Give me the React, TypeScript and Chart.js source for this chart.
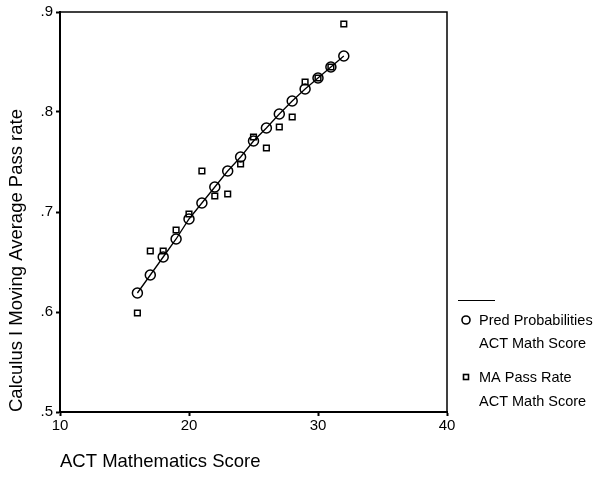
import React, { useEffect, useRef } from "react";
import { Chart, registerables } from "chart.js";

Chart.register(...registerables);

const actScores = [16, 17, 18, 19, 20, 21, 22, 23, 24, 25, 26, 27, 28, 29, 30, 31, 32];
const predProbabilities = [0.619, 0.637, 0.655, 0.673, 0.693, 0.709, 0.725, 0.741, 0.755, 0.771, 0.784, 0.798, 0.811, 0.823, 0.834, 0.845, 0.856];
const maPassRate = [0.599, 0.661, 0.661, 0.682, 0.698, 0.741, 0.716, 0.718, 0.748, 0.775, 0.764, 0.785, 0.795, 0.830, 0.834, 0.845, 0.888];
const legendLabels = [["Pred Probabilities", "ACT Math Score"], ["MA Pass Rate", "ACT Math Score"]];
const xTitle = "ACT Mathematics Score";
const yTitle = "Calculus I Moving Average Pass rate";

const FONT = "'Liberation Sans', Arial, sans-serif";

const framePlugin = {
  id: "frame",
  beforeDatasetsDraw(chart: any) {
    const { ctx, chartArea: a } = chart;
    ctx.save();
    ctx.strokeStyle = "#000";
    ctx.lineWidth = 1.5;
    ctx.strokeRect(a.left, a.top, a.right - a.left, a.bottom - a.top);
    ctx.restore();
  },
};

const legendPlugin = {
  id: "customLegend",
  afterDraw(chart: any) {
    const { ctx, chartArea: a } = chart;
    const x0 = a.right + 11;
    ctx.save();
    ctx.strokeStyle = "#000";
    ctx.fillStyle = "#000";
    ctx.lineWidth = 1.2;
    ctx.beginPath();
    ctx.moveTo(x0, 300.5);
    ctx.lineTo(x0 + 37, 300.5);
    ctx.stroke();
    ctx.lineWidth = 1.6;
    ctx.beginPath();
    ctx.arc(x0 + 8, 320, 4, 0, Math.PI * 2);
    ctx.stroke();
    ctx.strokeRect(x0 + 5.5, 374.5, 5, 5);
    ctx.font = `14.5px ${FONT}`;
    ctx.textBaseline = "middle";
    ctx.textAlign = "left";
    const tx = x0 + 21;
    ctx.fillText(legendLabels[0][0], tx, 321);
    ctx.fillText(legendLabels[0][1], tx, 344);
    ctx.fillText(legendLabels[1][0], tx, 378);
    ctx.fillText(legendLabels[1][1], tx, 402);
    ctx.restore();
  },
};

export default function App() {
  const ref = useRef<HTMLCanvasElement>(null);
  useEffect(() => {
    if (!ref.current) return;
    const chart = new Chart(ref.current, {
      type: "scatter",
      data: {
        datasets: [
          {
            label: "Pred Probabilities",
            data: actScores.map((x, i) => ({ x, y: predProbabilities[i] })),
            showLine: true,
            borderColor: "#000",
            borderWidth: 1.3,
            pointStyle: "circle",
            pointRadius: 5,
            pointBorderWidth: 1.5,
            pointBorderColor: "#000",
            pointBackgroundColor: "rgba(0,0,0,0)",
          },
          {
            label: "MA Pass Rate",
            data: actScores.map((x, i) => ({ x, y: maPassRate[i] })),
            showLine: false,
            pointStyle: "rect",
            pointRadius: 4,
            pointBorderWidth: 1.5,
            pointBorderColor: "#000",
            pointBackgroundColor: "rgba(0,0,0,0)",
          },
        ],
      },
      options: {
        responsive: false,
        animation: false,
        layout: { padding: { left: 0, top: 10, right: 147, bottom: 0 } },
        plugins: { legend: { display: false }, tooltip: { enabled: false } },
        scales: {
          x: {
            type: "linear",
            min: 10,
            max: 40,
            afterFit: (s: any) => { s.height = 72; },
            ticks: { stepSize: 10, color: "#000", font: { family: FONT, size: 15 }, padding: 1 },
            grid: { drawOnChartArea: false, drawTicks: true, tickLength: 4, tickWidth: 2, tickColor: "#000", color: "#000" },
            border: { display: true, color: "#000", width: 2 },
            title: { display: true, text: xTitle, align: "start", color: "#000", font: { family: FONT, size: 18.5 }, padding: { top: 0, bottom: 11 } },
          },
          y: {
            type: "linear",
            min: 0.5,
            max: 0.9,
            afterFit: (s: any) => { s.width = 60; },
            ticks: {
              stepSize: 0.1,
              color: "#000",
              font: { family: FONT, size: 15 },
              padding: 3,
              callback: (v: any) => "." + Math.round(Number(v) * 10),
            },
            grid: { drawOnChartArea: false, drawTicks: true, tickLength: 4, tickWidth: 2, tickColor: "#000", color: "#000" },
            border: { display: true, color: "#000", width: 2 },
            title: { display: true, text: yTitle, align: "start", color: "#000", font: { family: FONT, size: 18.5 }, padding: { top: 6, bottom: 0 } },
          },
        },
      },
      plugins: [framePlugin, legendPlugin],
    });
    return () => chart.destroy();
  }, []);
  return (
    <div style={{ position: "absolute", left: 0, top: 0, width: 594, height: 484, background: "#fff" }}>
      <canvas ref={ref} width={594} height={484} />
    </div>
  );
}
